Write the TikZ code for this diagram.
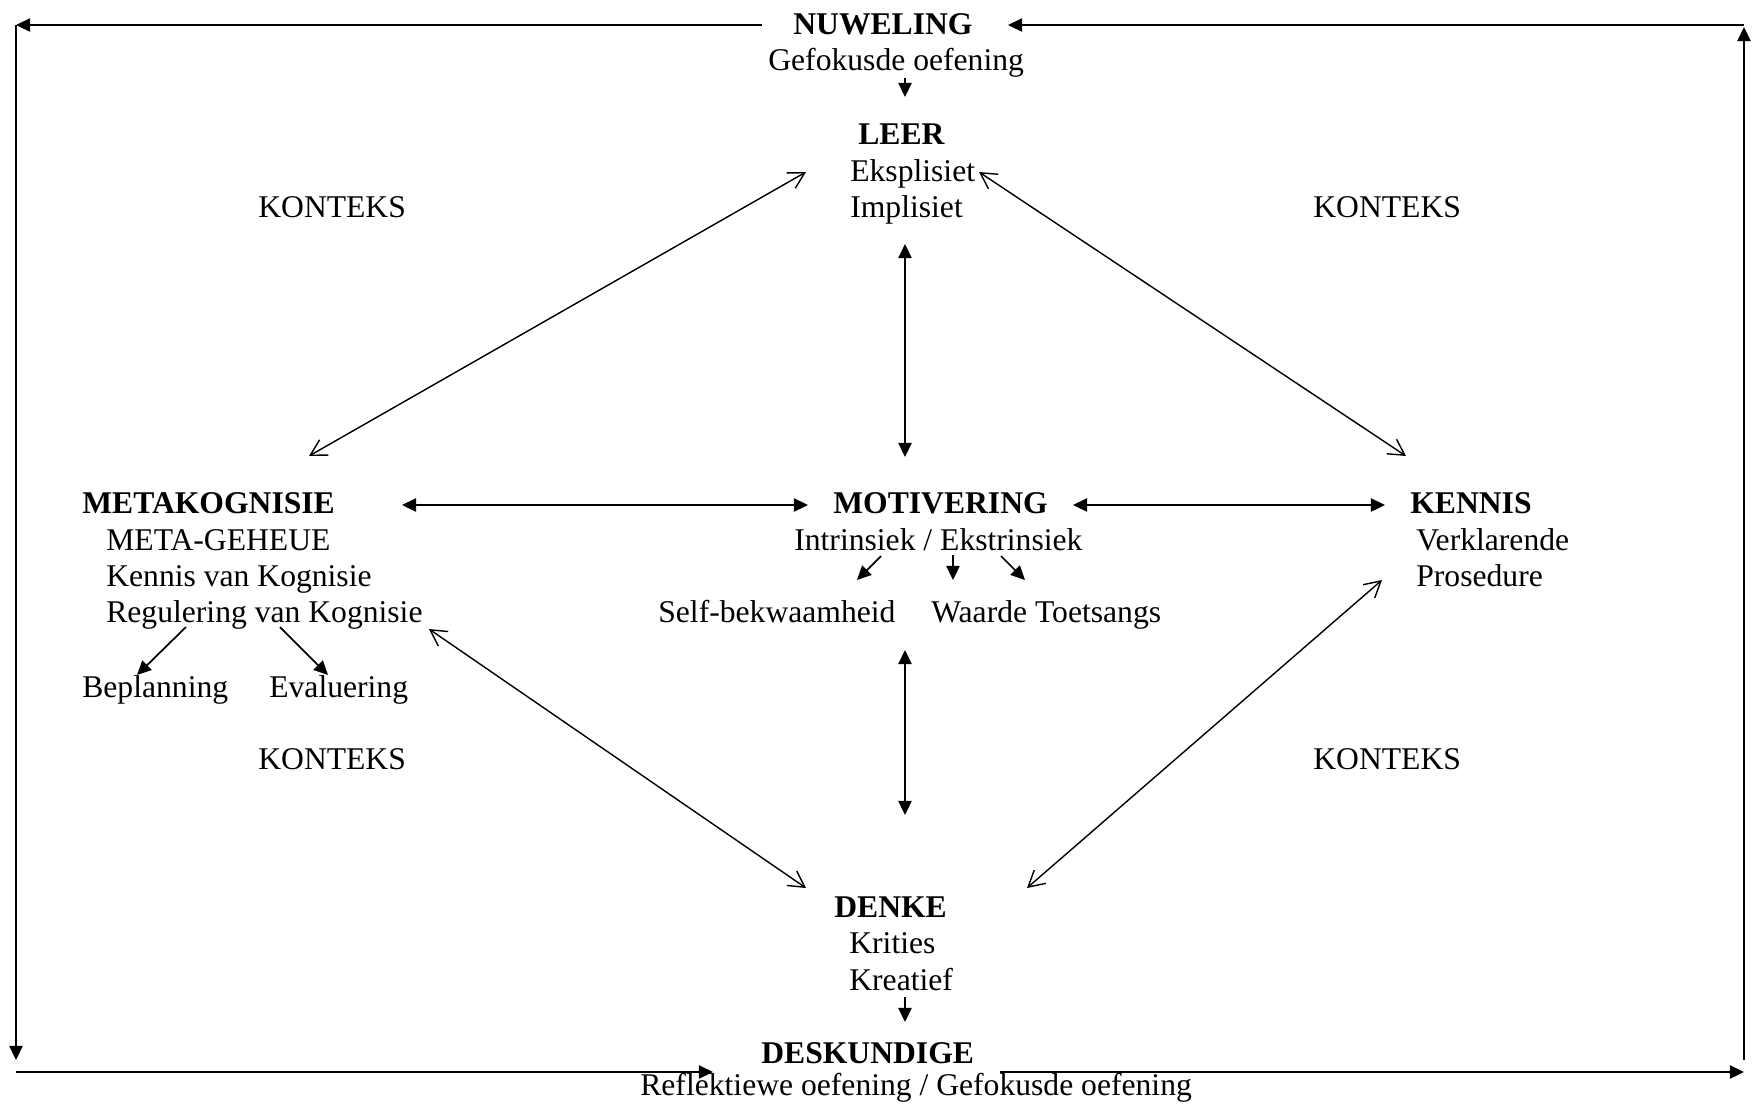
\documentclass[tikz,border=0pt]{standalone}
\usepackage{fontspec}
\setmainfont{Liberation Serif}
\usetikzlibrary{arrows.meta}
\begin{document}
\begin{tikzpicture}[x=0.02cm,y=-0.02cm,
  txt/.style={inner sep=0pt, anchor=base west, font=\fontsize{18}{20}\selectfont},
  hd/.style={txt, font=\fontsize{18}{20}\selectfont\bfseries},
  solid arrow/.style={line width=1pt, -{Triangle[length=8pt,width=7.5pt]}},
  both solid/.style={line width=1pt, {Triangle[length=8pt,width=7.5pt]}-{Triangle[length=8pt,width=7.5pt]}},
  both open/.style={line width=0.8pt, {Straight Barb[length=9pt,width=10pt]}-{Straight Barb[length=9pt,width=10pt]}},
  frame/.style={line width=1pt}
]
\useasboundingbox (0,0) rectangle (1756,1107);

% texts
\node[hd]  (nuw)  at (793,34)  {NUWELING};
\node[txt] (gef)  at (768,70)  {Gefokusde oefening};
\node[hd]  (leer) at (858,144) {LEER};
\node[txt] (eks)  at (850,181) {Eksplisiet};
\node[txt] (imp)  at (850,217) {Implisiet};

\node[txt] (k1) at (258,217) {KONTEKS};
\node[txt] (k2) at (1313,217) {KONTEKS};
\node[txt] (k3) at (258,769) {KONTEKS};
\node[txt] (k4) at (1313,769) {KONTEKS};

\node[hd]  (meta) at (82,513)  {METAKOGNISIE};
\node[txt] (mgeh) at (106,550) {META-GEHEUE};
\node[txt] (kvk)  at (106,586) {Kennis van Kognisie};
\node[txt] (reg)  at (106,622) {Regulering van Kognisie};
\node[txt] (bep)  at (82,697)  {Beplanning};
\node[txt] (eva)  at (269,697) {Evaluering};

\node[hd]  (mot)  at (833,513) {MOTIVERING};
\node[txt] (ie)   at (794,550) {Intrinsiek / Ekstrinsiek};
\node[txt] (self) at (658,622) {Self-bekwaamheid};
\node[txt] (waa)  at (931,622) {Waarde Toetsangs};

\node[hd]  (ken)  at (1410,513) {KENNIS};
\node[txt] (ver)  at (1416,550) {Verklarende};
\node[txt] (pro)  at (1416,586) {Prosedure};

\node[hd]  (denk) at (834,917) {DENKE};
\node[txt] (kri)  at (849,953) {Krities};
\node[txt] (kre)  at (849,990) {Kreatief};

\node[hd]  (desk) at (761,1063) {DESKUNDIGE};
\node[txt] (refl) at (640,1095) {Reflektiewe oefening / Gefokusde oefening};

% connector end points
\coordinate (tl) at (16,25);
\coordinate (tr) at (1744,25);
\coordinate (trup) at (1744,27);
\coordinate (nuwL) at (762,25);
\coordinate (nuwR) at (1008,25);
\coordinate (lbot) at (16,1060);
\coordinate (rbot) at (1744,1060);
\coordinate (bl) at (16,1072);
\coordinate (br) at (1744,1072);
\coordinate (deskL) at (713,1072);
\coordinate (deskR) at (1000,1072);

\coordinate (gefB) at (905,78);
\coordinate (leerT) at (905,97);
\coordinate (kreB) at (905,997);
\coordinate (deskT) at (905,1022);

\coordinate (leerA) at (806,172);
\coordinate (metaA) at (309,456);
\coordinate (leerB) at (979,172);
\coordinate (kenA) at (1406,456);
\coordinate (regA) at (429,629);
\coordinate (denkA) at (806,888);
\coordinate (kenB) at (1382,580);
\coordinate (denkB) at (1027,888);
\coordinate (leerC) at (905,244);
\coordinate (motA) at (905,457);
\coordinate (motB) at (905,650);
\coordinate (denkC) at (905,815);
\coordinate (metaB) at (402,505);
\coordinate (motL) at (808,505);
\coordinate (motR) at (1073,505);
\coordinate (kenL) at (1385,505);

\coordinate (reg1) at (186,627);
\coordinate (bep1) at (137,675);
\coordinate (reg2) at (280,627);
\coordinate (eva1) at (328,675);
\coordinate (ie1) at (881,556);
\coordinate (self1) at (857,580);
\coordinate (ie2) at (953,555);
\coordinate (waa1) at (953,580);
\coordinate (ie3) at (1001,556);
\coordinate (waa2) at (1025,580);

% outer loop
\draw[solid arrow] (nuwL) -- (tl);
\draw[frame] (tl) -- (16,1040);
\draw[solid arrow] (tl) -- (lbot);
\draw[solid arrow] (bl) -- (deskL);
\draw[solid arrow] (deskR) -- (br);
\draw[solid arrow] (rbot) -- (trup);
\draw[solid arrow] (tr) -- (nuwR);

% vertical flow
\draw[solid arrow] (gefB) -- (leerT);
\draw[solid arrow] (kreB) -- (deskT);

% main connectors
\draw[both open] (leerA) -- (metaA);
\draw[both open] (leerB) -- (kenA);
\draw[both open] (regA) -- (denkA);
\draw[both open] (kenB) -- (denkB);
\draw[both solid] (leerC) -- (motA);
\draw[both solid] (motB) -- (denkC);
\draw[both solid] (metaB) -- (motL);
\draw[both solid] (motR) -- (kenL);

% small arrows
\draw[solid arrow] (reg1) -- (bep1);
\draw[solid arrow] (reg2) -- (eva1);
\draw[solid arrow] (ie1) -- (self1);
\draw[solid arrow] (ie2) -- (waa1);
\draw[solid arrow] (ie3) -- (waa2);
\end{tikzpicture}
\end{document}
